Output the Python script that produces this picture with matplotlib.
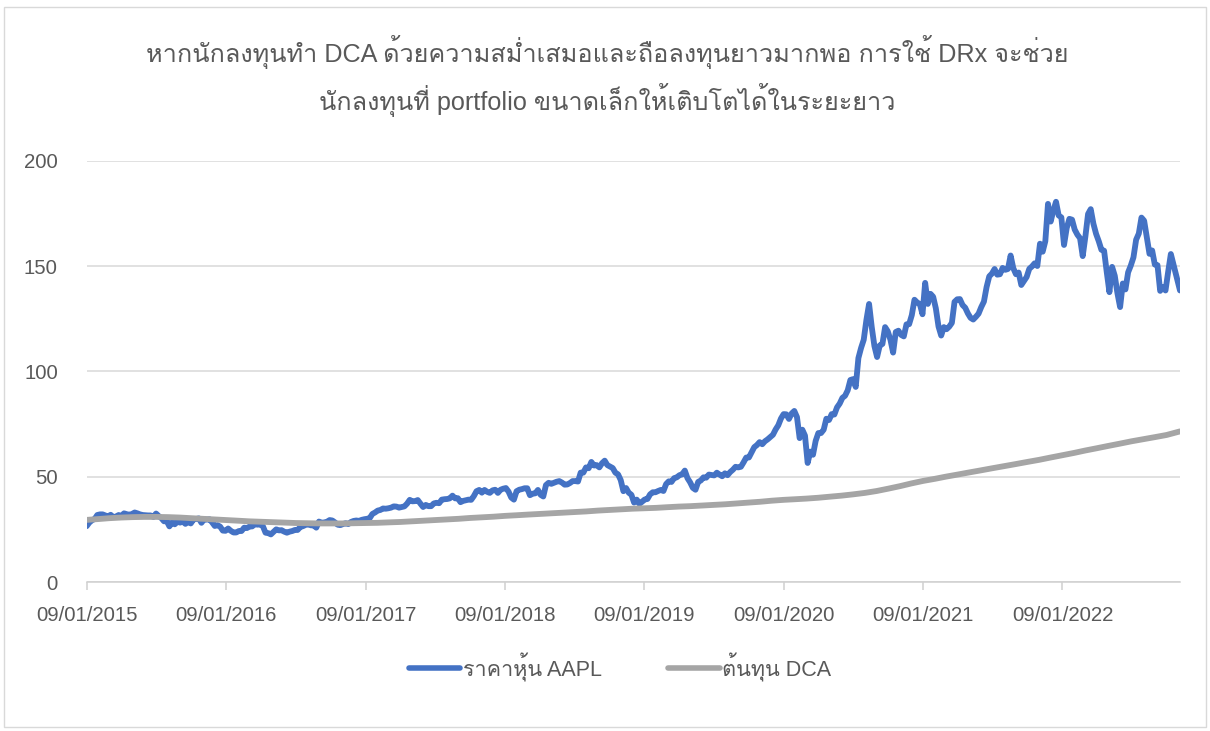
import numpy as np
import pandas as pd
import matplotlib
matplotlib.use("Agg")
import matplotlib.pyplot as plt
from matplotlib import font_manager
from matplotlib.patches import Rectangle
from matplotlib.lines import Line2D

# ---------------- data ----------------
title_line1 = "หากนักลงทุนทำ DCA ด้วยความสม่ำเสมอและถือลงทุนยาวมากพอ การใช้ DRx จะช่วย"
title_line2 = "นักลงทุนที่ portfolio ขนาดเล็กให้เติบโตได้ในระยะยาว"
series_names = ["ราคาหุ้น AAPL", "ต้นทุน DCA"]
tick_years = [2015, 2016, 2017, 2018, 2019, 2020, 2021, 2022]
tick_labels = [f"09/01/{y}" for y in tick_years]
y_ticks = [0, 50, 100, 150, 200]

# weekly AAPL closes (Fridays)
aapl_2015 = [28.0, 26.5, 28.2, 29.3, 29.9, 31.8, 32.1, 32.1, 31.6, 31.1, 31.9, 30.8,
             31.1, 31.8, 31.2, 32.6, 32.2, 31.9, 32.3, 33.0, 32.6, 32.1, 31.8, 31.7,
             31.6, 31.6, 30.9, 32.5, 31.3, 30.3, 28.8, 29.0, 26.4, 28.3, 27.4, 28.6,
             28.2, 28.7, 27.6, 28.6, 27.8, 29.7, 29.9, 30.2, 28.1, 29.8, 29.6, 29.8,
             28.3, 26.6, 27.0]
aapl_2016 = [26.3, 24.4, 24.3, 25.4, 24.3, 23.5, 23.5, 24.2, 24.2, 25.8, 25.6, 26.3,
             26.4, 27.5, 27.2, 27.4, 26.5, 23.4, 23.2, 22.6, 23.8, 25.0, 24.5, 24.6,
             23.9, 23.4, 23.9, 24.2, 24.7, 24.7, 26.1, 26.5, 27.1, 27.4, 26.9, 26.9,
             25.8, 28.7, 28.1, 28.3, 28.6, 29.4, 29.2, 28.3, 27.2, 27.0, 27.5, 27.9,
             27.5, 28.5, 29.0, 29.2, 29.0]
aapl_2017 = [29.5, 29.8, 30.0, 30.3, 32.3, 33.0, 33.9, 34.2, 34.9, 34.8, 35.0, 35.3,
             35.9, 35.8, 35.3, 35.6, 35.9, 37.2, 39.0, 38.3, 38.4, 38.9, 37.2, 35.6,
             36.6, 36.0, 36.0, 37.3, 37.6, 37.4, 39.1, 39.3, 39.4, 39.7, 41.0, 39.7,
             39.8, 37.9, 38.5, 38.8, 39.1, 39.0, 40.8, 43.1, 43.7, 42.4, 43.7, 42.8,
             42.3, 43.5, 43.8, 42.3]
aapl_2018 = [43.8, 44.3, 44.6, 42.9, 40.1, 39.1, 43.1, 43.8, 44.1, 44.5, 44.5, 41.2,
             41.9, 42.1, 43.7, 41.4, 40.6, 46.0, 47.1, 46.6, 47.1, 47.6, 47.9, 47.2,
             46.2, 46.3, 47.0, 47.9, 47.9, 47.7, 51.9, 51.9, 54.4, 54.0, 57.0, 55.3,
             55.5, 54.4, 56.4, 57.6, 55.5, 54.8, 54.1, 51.9, 51.1, 48.4, 43.1, 44.6,
             42.4, 41.4, 37.7, 39.1]
aapl_2019 = [37.1, 38.1, 39.2, 39.4, 41.6, 42.6, 42.6, 43.2, 43.7, 43.2, 46.5, 47.8,
             47.5, 49.3, 49.7, 50.7, 51.1, 52.9, 49.3, 47.3, 44.7, 43.8, 47.5, 48.2,
             49.7, 49.5, 51.0, 50.8, 50.6, 51.9, 51.0, 50.2, 51.6, 50.7, 52.2, 53.3,
             54.7, 54.4, 54.7, 56.8, 59.1, 59.1, 61.6, 64.0, 65.0, 66.4, 65.4, 66.8,
             67.7, 68.8, 69.9, 72.4]
aapl_2020 = [74.4, 77.6, 79.7, 79.6, 77.4, 80.0, 81.2, 78.3, 68.3, 72.3, 69.5, 56.5,
             61.9, 60.4, 67.0, 70.7, 70.7, 72.3, 77.5, 76.9, 79.7, 79.5, 82.9, 84.7,
             87.4, 88.4, 91.0, 95.9, 96.3, 92.6, 106.3, 111.1, 115.0, 124.4, 132.0, 121.0,
             112.0, 106.8, 112.3, 113.0, 121.0, 119.0, 115.0, 108.9, 118.7, 119.3, 117.3, 116.6,
             122.3, 122.4, 126.7, 134.0]
aapl_2021 = [132.7, 132.0, 127.1, 142.0, 132.0, 136.8, 135.4, 129.9, 121.3, 117.0, 121.0, 120.0,
             121.2, 123.0, 133.0, 134.2, 134.3, 131.5, 130.2, 127.5, 125.4, 124.6, 125.9, 127.4,
             130.5, 133.1, 140.0, 145.1, 146.4, 148.6, 145.9, 146.1, 149.1, 148.2, 148.6, 155.0,
             149.0, 146.1, 146.9, 141.0, 142.9, 144.8, 148.7, 149.8, 151.3, 150.0, 160.6, 156.8,
             161.8, 179.5, 171.1, 176.3, 180.5]
aapl_2022 = [174.0, 173.1, 160.0, 168.0, 172.4, 172.0, 167.3, 164.9, 163.2, 154.7, 164.0, 174.7,
             177.0, 170.1, 165.3, 161.8, 157.7, 157.3, 147.1, 137.6, 149.6, 145.4, 137.1, 130.5,
             141.7, 138.9, 147.0, 150.2, 154.1, 162.5, 165.4, 173.0, 171.5, 163.6, 155.8, 157.4,
             150.7, 150.4, 138.2, 140.1, 138.4, 147.3, 155.7, 138.4]

# monthly DCA average cost (9th of each month)
dca_2015 = [29.5, 29.9, 30.3, 30.6, 30.8, 30.9, 30.9, 30.8, 30.6, 30.3, 30.0, 29.7]
dca_2016 = [29.4, 29.1, 28.8, 28.6, 28.4, 28.2, 28.0, 27.9, 27.8, 27.8, 27.8, 27.9]
dca_2017 = [28.0, 28.1, 28.3, 28.5, 28.8, 29.1, 29.4, 29.7, 30.0, 30.4, 30.7, 31.0]
dca_2018 = [31.4, 31.7, 32.0, 32.3, 32.6, 32.9, 33.2, 33.5, 33.9, 34.2, 34.5, 34.8]
dca_2019 = [35.0, 35.2, 35.5, 35.8, 36.0, 36.3, 36.6, 36.9, 37.3, 37.7, 38.1, 38.6]
dca_2020 = [39.0, 39.3, 39.6, 40.0, 40.5, 41.0, 41.6, 42.3, 43.2, 44.3, 45.5, 46.8]
dca_2021 = [48.0, 49.0, 50.0, 51.0, 52.0, 53.0, 54.0, 55.0, 56.0, 57.0, 58.0, 59.1]
dca_2022 = [60.2, 61.3, 62.4, 63.5, 64.6, 65.7, 66.8, 67.8, 68.8, 69.8, 71.5]

# ---------------- fonts ----------------
def thai_fonts():
    found = []
    try:
        from fontTools.ttLib import TTFont
    except Exception:
        return found
    seen = set()
    for f in font_manager.fontManager.ttflist:
        if f.fname in seen:
            continue
        seen.add(f.fname)
        try:
            tt = TTFont(f.fname, fontNumber=0, lazy=True)
            cmap = tt.getBestCmap()
            if cmap and 0x0E2B in cmap and 0x0E49 in cmap and f.name not in found:
                found.append(f.name)
        except Exception:
            pass
    return found

families = ["Liberation Sans"] + thai_fonts() + ["DejaVu Sans"]
plt.rcParams["font.family"] = families

# ---------------- dates ----------------
shift = pd.Timedelta(days=8)
x_start = pd.Timestamp("2015-01-09")
x_end = pd.Timestamp("2022-11-13")

year_ranges = {
    2015: ("2015-01-09", "2015-12-31"), 2016: ("2016-01-01", "2016-12-31"),
    2017: ("2017-01-01", "2017-12-31"), 2018: ("2018-01-01", "2018-12-31"),
    2019: ("2019-01-01", "2019-12-31"), 2020: ("2020-01-01", "2020-12-31"),
    2021: ("2021-01-01", "2021-12-31"), 2022: ("2022-01-01", "2022-11-04"),
}
aapl_years = {2015: aapl_2015, 2016: aapl_2016, 2017: aapl_2017, 2018: aapl_2018,
              2019: aapl_2019, 2020: aapl_2020, 2021: aapl_2021, 2022: aapl_2022}
a_dates, a_vals = [], []
for y, (s, e) in year_ranges.items():
    d = pd.date_range(s, e, freq="W-FRI")
    v = aapl_years[y]
    assert len(d) == len(v), (y, len(d), len(v))
    a_dates.extend(list(d - shift))
    a_vals.extend(v)
a_dates[-1] = x_end

dca_years = {2015: dca_2015, 2016: dca_2016, 2017: dca_2017, 2018: dca_2018,
             2019: dca_2019, 2020: dca_2020, 2021: dca_2021, 2022: dca_2022}
d_dates, d_vals = [], []
for y, v in dca_years.items():
    d = list(pd.date_range(f"{y}-01-09", periods=len(v), freq=pd.DateOffset(months=1)))
    d_dates.extend(d)
    d_vals.extend(v)
d_dates[-1] = x_end

# ---------------- figure ----------------
W, H = 1210, 731
fig = plt.figure(figsize=(W / 100, H / 100), dpi=100)
fig.patch.set_facecolor("white")
fig.add_artist(Rectangle((4 / W, 1 - 727 / H), 1202 / W, 720 / H, transform=fig.transFigure,
                         fill=False, edgecolor="#d9d9d9", lw=1.0))

ax = fig.add_axes([87 / W, 1 - 582 / H, (1180 - 87) / W, (582 - 160.7) / H])
blue, gray, txt = "#4472C4", "#A5A5A5", "#595959"

ax.plot(a_dates, a_vals, color=blue, lw=4.2, solid_joinstyle="round",
        solid_capstyle="round", zorder=3)
ax.plot(d_dates, d_vals, color=gray, lw=4.2, solid_joinstyle="round",
        solid_capstyle="round", zorder=4)

ax.set_xlim(x_start, x_end)
ax.set_ylim(0, 200)
ax.set_yticks(y_ticks)
ax.set_xticks([pd.Timestamp(f"{y}-01-09") for y in tick_years])
ax.set_xticklabels(tick_labels)
ax.yaxis.grid(True, color="#d9d9d9", lw=1.1)
ax.set_axisbelow(True)
for s in ["left", "right", "top"]:
    ax.spines[s].set_visible(False)
ax.spines["bottom"].set_color("#d0d0d0")
ax.spines["bottom"].set_linewidth(1.1)
ax.tick_params(axis="x", direction="out", length=6, width=1.1, color="#d0d0d0",
               labelsize=14.7, labelcolor=txt, pad=11)
ax.tick_params(axis="y", length=0, labelsize=14.7, labelcolor=txt, pad=21)
ax.set_facecolor("none")

fig.text(607 / W, 1 - 52 / H, title_line1, ha="center", va="center", fontsize=18.2, color=txt)
fig.text(607 / W, 1 - 100 / H, title_line2, ha="center", va="center", fontsize=18.2, color=txt)

handles = [Line2D([], [], color=blue, lw=4.0, solid_capstyle="round"),
           Line2D([], [], color=gray, lw=4.0, solid_capstyle="round")]
fig.legend(handles, series_names, loc="center", bbox_to_anchor=(620 / W, 1 - 667 / H),
           ncol=2, frameon=False, fontsize=15.5, handlelength=2.4, handletextpad=0.1,
           columnspacing=3.1, labelcolor=txt)

fig.savefig("out.png", dpi=100, facecolor="white")
